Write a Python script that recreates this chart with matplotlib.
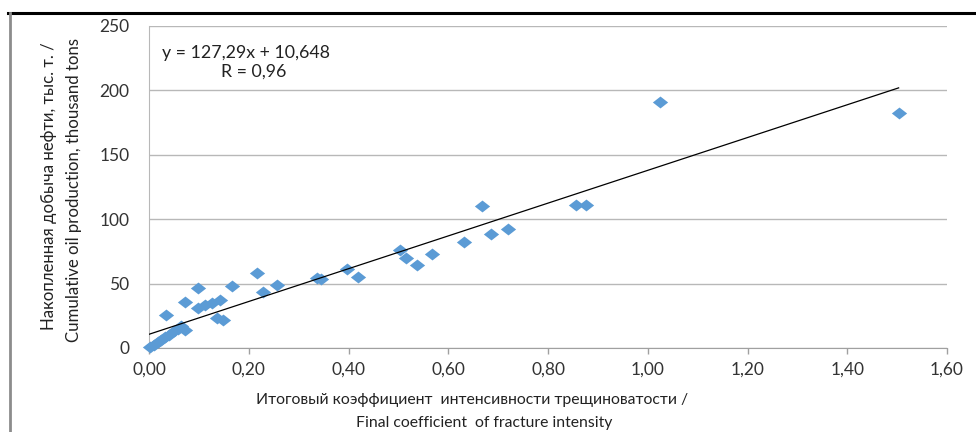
import matplotlib
matplotlib.use("Agg")
import matplotlib.pyplot as plt
from matplotlib.ticker import FuncFormatter, MultipleLocator
from matplotlib.lines import Line2D

plt.rcParams['font.family'] = ['Lato', 'DejaVu Sans']

# final fracture intensity coefficient vs cumulative oil production
fracture_coef = [0.003, 0.010, 0.018, 0.025, 0.033, 0.040, 0.050, 0.058, 0.065, 0.072,
                 0.035, 0.072, 0.098, 0.098, 0.112, 0.126, 0.142, 0.136, 0.149,
                 0.166, 0.217, 0.229, 0.256, 0.336, 0.345, 0.396, 0.420,
                 0.503, 0.516, 0.537, 0.567, 0.631, 0.667, 0.685, 0.720,
                 0.857, 0.877, 1.024, 1.503]
oil_production = [0.5, 2.5, 4.5, 6.5, 8.5, 10.0, 13.0, 15.0, 17.0, 14.0,
                  25.6, 35.5, 46.5, 31.0, 33.4, 34.7, 37.3, 23.0, 21.7,
                  48.1, 58.0, 43.7, 48.9, 54.1, 53.5, 61.1, 55.4,
                  76.1, 69.6, 64.4, 73.0, 82.3, 110.2, 88.5, 92.5,
                  111.0, 111.0, 190.8, 182.2]

# linear trend as reported on the chart
slope = 127.29
intercept = 10.648
r_value = 0.96

fig = plt.figure(figsize=(9.76, 4.32), dpi=100)
ax = fig.add_axes([149 / 976, 1 - 348 / 432, (947 - 149) / 976, (348 - 26) / 432])

diamond = [(-1, 0), (0, 0.78), (1, 0), (0, -0.78), (-1, 0)]
ax.plot(fracture_coef, oil_production, linestyle='none', marker=diamond,
        markersize=11, color='#5B9BD5', markeredgewidth=0, zorder=3,
        clip_on=False)

x_end = max(fracture_coef)
ax.plot([0, x_end], [intercept, slope * x_end + intercept], color='black',
        lw=0.9, zorder=4)

ax.set_xlim(0, 1.6)
ax.set_ylim(0, 250)
ax.xaxis.set_major_locator(MultipleLocator(0.2))
ax.yaxis.set_major_locator(MultipleLocator(50))
ax.xaxis.set_major_formatter(FuncFormatter(lambda v, p: f"{v:.2f}".replace('.', ',')))
ax.yaxis.grid(True, color='#b8b8b8', lw=1)
ax.set_axisbelow(True)
for side in ['top', 'right']:
    ax.spines[side].set_visible(False)
ax.spines['left'].set_color('#b8b8b8')
ax.spines['bottom'].set_color('#a0a0a0')
ax.tick_params(axis='x', length=4, width=1, color='#a0a0a0', pad=6,
               labelsize=12.5, labelcolor='#333333')
ax.tick_params(axis='y', length=0, pad=14, labelsize=12.5, labelcolor='#333333')

ax.text(162 / 976, 1 - 53 / 432, 'y = 127,29x + 10,648', transform=fig.transFigure,
        fontsize=12.8, color='#222222', va='center', ha='left')
ax.text(254 / 976, 1 - 72 / 432, f'R = {r_value:.2f}'.replace('.', ','),
        transform=fig.transFigure, fontsize=12.8, color='#222222',
        va='center', ha='center')

fig.text(49 / 976, 1 - 186 / 432, 'Накопленная добыча нефти, тыс. т. /',
         rotation=90, ha='center', va='center', fontsize=12.1, color='#222222')
fig.text(74 / 976, 1 - 190 / 432, 'Cumulative oil production, thousand tons',
         rotation=90, ha='center', va='center', fontsize=12.1, color='#222222')
fig.text(472 / 976, 1 - 400 / 432, 'Итоговый коэффициент  интенсивности трещиноватости /',
         ha='center', va='center', fontsize=11.3, color='#222222')
fig.text(484 / 976, 1 - 423 / 432, 'Final coefficient  of fracture intensity',
         ha='center', va='center', fontsize=11.3, color='#222222')

# frame lines around the figure
fig.add_artist(Line2D([8 / 976, 1], [1 - 12.5 / 432] * 2, color='black', lw=2.2,
                      transform=fig.transFigure))
fig.add_artist(Line2D([10 / 976] * 2, [0, 1 - 12.5 / 432], color='#8c8c8c', lw=2,
                      transform=fig.transFigure))

fig.savefig('out.png', dpi=100)
